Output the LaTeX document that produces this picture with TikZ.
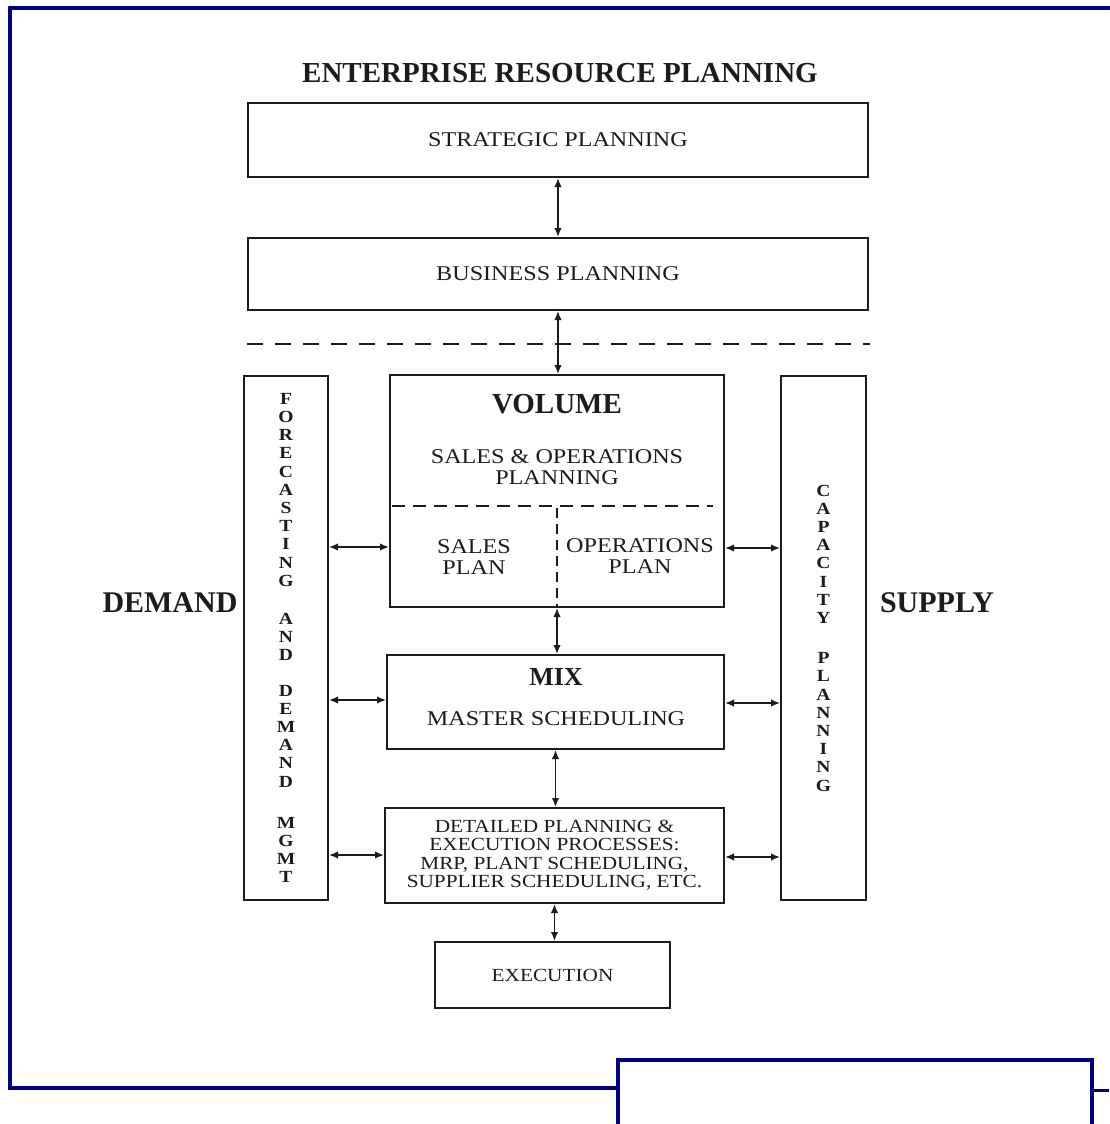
\documentclass[tikz,border=0pt]{standalone}
\usepackage{fontspec}
\setmainfont{Liberation Serif}
\newfontfamily\widefont[FakeStretch=1.15]{Liberation Serif}
\usetikzlibrary{arrows.meta}
\definecolor{frameblue}{RGB}{0,0,128}
\definecolor{ink}{RGB}{28,28,28}

\begin{document}
\begin{tikzpicture}[x=1pt,y=-1pt,
  box/.style={draw=ink, line width=2pt, rectangle, inner sep=0pt, align=center, text=ink,
              font=\widefont\fontsize{21}{22}\selectfont},
  lbl/.style={font=\widefont\fontsize{21}{21.5}\selectfont, text=ink, align=center, inner sep=0pt},
  head/.style={font=\bfseries\fontsize{29}{30}\selectfont, text=ink, inner sep=0pt},
  side/.style={font=\bfseries\fontsize{30}{30}\selectfont, text=ink, inner sep=0pt},
  column/.style={draw=ink, line width=2pt, rectangle, inner sep=0pt, align=center, text=ink,
                 minimum height=524pt, font=\widefont\bfseries\fontsize{17}{18.2}\selectfont},
  link/.style={draw=ink, line width=1.6pt,
               {Latex[length=9pt,width=7.5pt]}-{Latex[length=9pt,width=7.5pt]}},
  rule/.style={draw=ink, line width=1.5pt},
  frame/.style={draw=frameblue, line width=4.5pt, line cap=round}
]
\useasboundingbox (0,0) rectangle (1109,1124);
\fill[white] (0,0) rectangle (1109,1124);

% page frame
\draw[frame] (10,8) -- (1109,8);
\draw[frame] (10,8) -- (10,1088) -- (618,1088);
\draw[frame] (618,1124) -- (618,1060) -- (1092,1060) -- (1092,1124);
\draw[frameblue, line width=3pt] (1092,1090) -- (1109,1090);

% title
\node[head] (title) at (560,73) {ENTERPRISE RESOURCE PLANNING};

% upper planning levels
\node[box, minimum width=620pt, minimum height=74pt] (strat) at (558,140) {STRATEGIC PLANNING};
\node[box, minimum width=620pt, minimum height=72pt] (bus) at (558,274) {BUSINESS PLANNING};
\draw[rule, dash pattern=on 16pt off 12pt] (bus.west |- 0,344) -- (870,344);

% volume block
\node[box, minimum width=334pt, minimum height=232pt] (vol) at (557,491) {};
\node[head] (voltitle) at (557,404) {VOLUME};
\node[lbl] (sop) at (557,467) {SALES \& OPERATIONS\\PLANNING};
\draw[rule, dash pattern=on 13pt off 8pt] (392,506) -- (713,506);
\draw[rule, dash pattern=on 10pt off 6pt] (557,508) -- (557,606);
\node[lbl] (salesplan) at (474,557) {SALES\\PLAN};
\node[lbl] (opsplan) at (640,556) {OPERATIONS\\PLAN};

% mix block
\node[box, minimum width=337pt, minimum height=94pt] (mix) at (555.5,702) {};
\node[head, font=\bfseries\fontsize{26}{28}\selectfont] (mixtitle) at (556,677) {MIX};
\node[lbl] (mps) at (556,719) {MASTER SCHEDULING};

% detailed planning
\node[box, minimum width=339pt, minimum height=95pt, font=\widefont\fontsize{18.5}{18.5}\selectfont]
  (det) at (554.5,855.5) {DETAILED PLANNING \&\\EXECUTION PROCESSES:\\MRP, PLANT SCHEDULING,\\SUPPLIER SCHEDULING, ETC.};

% execution
\node[box, minimum width=235pt, minimum height=66pt, font=\widefont\fontsize{18.5}{22}\selectfont]
  (exe) at (552.5,975) {EXECUTION};

% side columns
\node[column, minimum width=84pt] (fc) at (286,638)
  {F\\O\\R\\E\\C\\A\\S\\T\\I\\N\\G\\[20pt]A\\N\\D\\[17pt]D\\E\\M\\A\\N\\D\\[23pt]M\\G\\M\\T};
\node[column, minimum width=85pt] (cp) at (823.5,638)
  {C\\A\\P\\A\\C\\I\\T\\Y\\[22pt]P\\L\\A\\N\\N\\I\\N\\G};

\node[side] (demand) at (170,603) {DEMAND};
\node[side] (supply) at (937,603) {SUPPLY};

% vertical links
\draw[link] (strat.south) -- (bus.north);
\draw[link] (bus.south) -- (bus.south |- vol.north);
\draw[link] (vol.south) -- (vol.south |- mix.north);
\draw[link] (mix.south) -- (mix.south |- det.north);
\draw[link] (det.south) -- (det.south |- exe.north);

% horizontal links
\draw[link] (fc.east |- 0,547) -- (vol.west |- 0,547);
\draw[link] (fc.east |- 0,700) -- (mix.west |- 0,700);
\draw[link] (fc.east |- 0,855) -- (det.west |- 0,855);
\draw[link] (vol.east |- 0,548) -- (cp.west |- 0,548);
\draw[link] (mix.east |- 0,703) -- (cp.west |- 0,703);
\draw[link] (det.east |- 0,857) -- (cp.west |- 0,857);
\end{tikzpicture}
\end{document}
